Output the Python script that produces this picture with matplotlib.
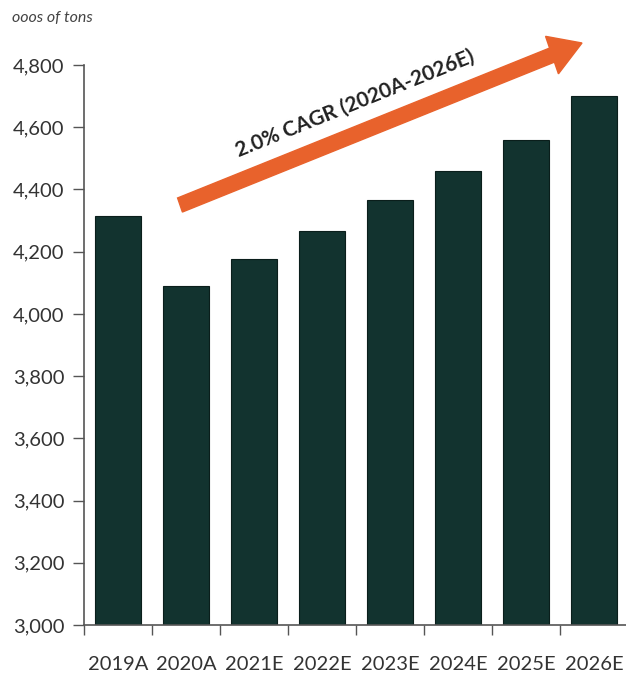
import matplotlib
matplotlib.use("Agg")
import matplotlib.pyplot as plt
from matplotlib.patches import FancyArrow

categories = ["2019A", "2020A", "2021E", "2022E", "2023E", "2024E", "2025E", "2026E"]
values = [4315, 4090, 4175, 4265, 4365, 4460, 4560, 4700]
y_ticks = [3000, 3200, 3400, 3600, 3800, 4000, 4200, 4400, 4600, 4800]
y_tick_labels = ["3,000", "3,200", "3,400", "3,600", "3,800", "4,000", "4,200", "4,400", "4,600", "4,800"]
unit_label = "ooos of tons"
cagr_label = "2.0% CAGR (2020A-2026E)"

W, H = 626, 678
fig = plt.figure(figsize=(W / 100, H / 100), dpi=100)
ax = fig.add_axes([84 / W, (H - 625) / H, 544 / W, 560 / H])

font = "Lato"
grey = "#555555"
bar_color = "#12332F"

x = list(range(len(categories)))
ax.bar(x, values, width=0.68, color=bar_color, edgecolor="#0a1e1b", linewidth=0.8, zorder=2)

ax.set_xlim(-0.5, len(categories) - 0.5)
ax.set_ylim(3000, 4800)
ax.set_yticks(y_ticks)
ax.set_yticklabels(y_tick_labels, fontsize=14.5, color="#333333", family=font)
ax.set_xticks(x)
ax.set_xticklabels(categories, fontsize=14.5, color="#333333", family=font)
ax.set_xticks([i - 0.5 for i in range(len(categories) + 1)], minor=True)
ax.tick_params(axis="x", which="major", length=0, pad=22)
ax.tick_params(axis="x", which="minor", length=7, color=grey, width=1)
ax.tick_params(axis="y", length=8, color=grey, width=1, pad=6)

for s in ["top", "right"]:
    ax.spines[s].set_visible(False)
for s in ["left", "bottom"]:
    ax.spines[s].set_color(grey)
    ax.spines[s].set_linewidth(1.2)

fig.text(12 / W, 1 - 18 / H, unit_label, fontsize=11.5, style="italic", color="#444444",
         family=font, va="center", ha="left")

# CAGR arrow in figure pixel coordinates
x0, y0 = 180, 205
x1, y1 = 582, 43
arr = FancyArrow(x0 / W, 1 - y0 / H, (x1 - x0) / W, -(y1 - y0) / H,
                 width=15 / H, head_width=40 / H, head_length=32 / W,
                 length_includes_head=True, color="#E8622C", transform=fig.transFigure,
                 zorder=5)
fig.add_artist(arr)

fig.text(355 / W, 1 - 103 / H, cagr_label, fontsize=15, fontweight="bold", color="#222222",
         family=font, rotation=22, ha="center", va="center", rotation_mode="anchor")

fig.savefig("out.png", dpi=100)
